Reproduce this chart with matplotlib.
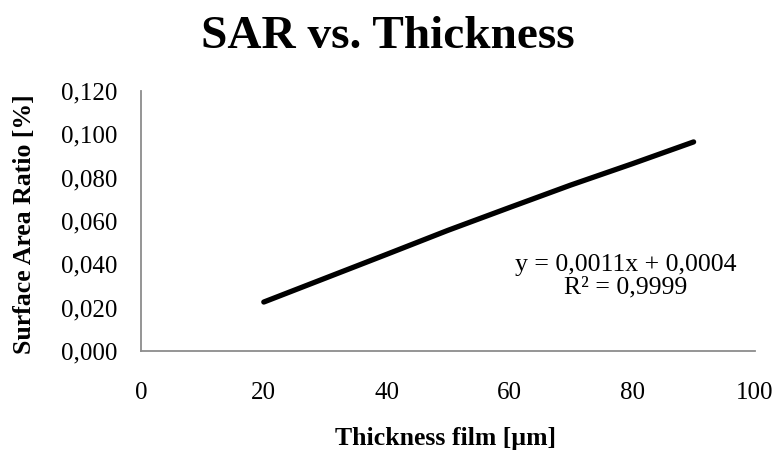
import matplotlib
matplotlib.use("Agg")
import matplotlib.pyplot as plt
from matplotlib.ticker import FuncFormatter

thickness = [20, 30, 40, 50, 60, 70, 80, 90]
sar = [0.0226, 0.0336, 0.0446, 0.0557, 0.0662, 0.0766, 0.0864, 0.0965]
x_ticks = [0, 20, 40, 60, 80, 100]
y_ticks = [0.0, 0.02, 0.04, 0.06, 0.08, 0.10, 0.12]
title = "SAR vs. Thickness"
xlabel = "Thickness film [µm]"
ylabel = "Surface Area Ratio [%]"
eq_text = "y = 0,0011x + 0,0004\nR² = 0,9999"

plt.rcParams['font.family'] = ['Liberation Serif', 'DejaVu Serif']

W, H = 775, 453
fig = plt.figure(figsize=(W/100, H/100), dpi=100)
ax = fig.add_axes([141/W, 1-351/H, (755-141)/W, (351-91)/H])

ax.plot(thickness, sar, color='black', lw=3.8, solid_capstyle='round', solid_joinstyle='round')

ax.set_xlim(0, 100)
ax.set_ylim(0, 0.12)
ax.set_xticks(x_ticks)
ax.set_yticks(y_ticks)
ax.xaxis.set_major_formatter(FuncFormatter(lambda v, p: f"{v:.0f}"))
ax.yaxis.set_major_formatter(FuncFormatter(lambda v, p: f"{v:.3f}".replace('.', ',')))
ax.tick_params(axis='both', length=0, labelsize=18)
ax.tick_params(axis='y', pad=17)
ax.tick_params(axis='x', pad=22)

for s in ['top', 'right']:
    ax.spines[s].set_visible(False)
for s in ['left', 'bottom']:
    ax.spines[s].set_color('#8c8c8c')
    ax.spines[s].set_linewidth(1.3)

fig.text(446/W, 1-439/H, xlabel, ha='center', va='center', fontsize=18.5, fontweight='bold')
fig.text(25/W, 1-224/H, ylabel, ha='center', va='center', rotation=90, fontsize=18.5, fontweight='bold')

fig.text(0.5, 1-37/H, title, ha='center', va='center', fontsize=34, fontweight='bold')

fig.text(626/W, 1-276/H, eq_text, ha='center', va='center', fontsize=18.5, linespacing=1.0)

fig.savefig('out.png', dpi=100)
